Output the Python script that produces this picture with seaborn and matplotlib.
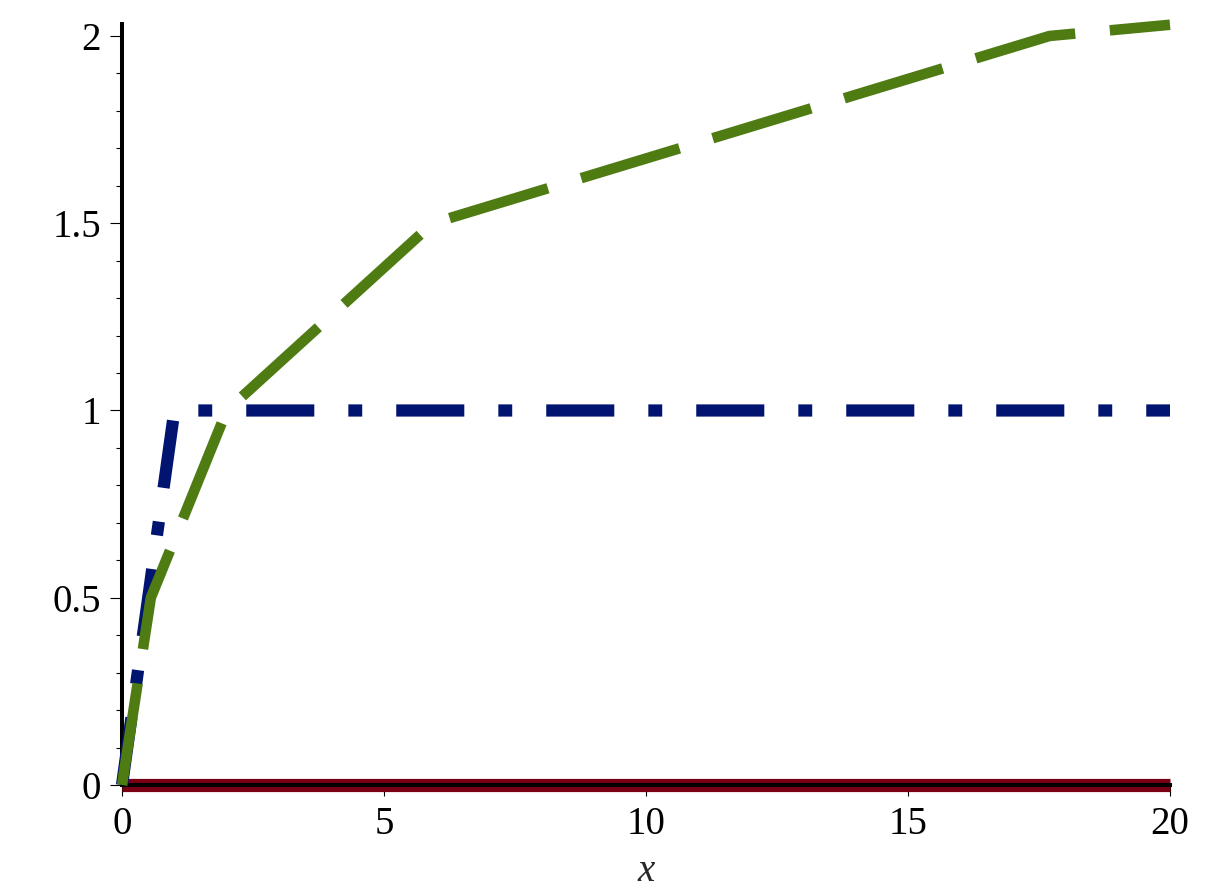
import numpy as np
import pandas as pd
import seaborn as sns
import matplotlib
matplotlib.use('Agg')
import matplotlib.pyplot as plt
from matplotlib.ticker import MultipleLocator, FixedLocator

# data
red_x = [0, 20]
red_y = [0, 0]
blue_x = [0, 1, 20]
blue_y = [0, 1, 1]
green_x = [0, 0.55, 2.0, 5.93, 17.7, 20]
green_y = [0, 0.5, 1.0, 1.5, 2.0, 2.03]

x_ticks = [0, 5, 10, 15, 20]
y_ticks = [0, 0.5, 1, 1.5, 2]
y_tick_labels = ['0', '0.5', '1', '1.5', '2']

sns.set_theme(style='white')
plt.rcParams['font.family'] = ['Liberation Serif', 'DejaVu Serif']
plt.rcParams['lines.scale_dashes'] = False
plt.rcParams['lines.dash_capstyle'] = 'butt'
plt.rcParams['lines.solid_capstyle'] = 'butt'

fig = plt.figure(figsize=(12.05, 8.94), dpi=100)
ax = fig.add_axes([122/1205, 1 - 785/894, (1170-122)/1205, (785-24)/894])

red = pd.DataFrame({'x': red_x, 'y': red_y})
blue = pd.DataFrame({'x': blue_x, 'y': blue_y})
green = pd.DataFrame({'x': green_x, 'y': green_y})

sns.lineplot(data=red, x='x', y='y', ax=ax, color='#780012', linewidth=9.5,
             estimator=None, sort=False, clip_on=False, zorder=2)
sns.lineplot(data=blue, x='x', y='y', ax=ax, color='#001470', linewidth=8.8,
             estimator=None, sort=False, clip_on=False, zorder=3,
             linestyle=(0, (49, 24.5, 10, 24.5)))
sns.lineplot(data=green, x='x', y='y', ax=ax, color='#4e7b12', linewidth=7.6,
             estimator=None, sort=False, clip_on=False, zorder=4,
             linestyle=(0, (74, 25)))

ax.set_xlim(0, 20)
ax.set_ylim(0, 2.032)

for s in ['top', 'right']:
    ax.spines[s].set_visible(False)
for s in ['left', 'bottom']:
    ax.spines[s].set_linewidth(2.9)
    ax.spines[s].set_color('black')
    ax.spines[s].set_zorder(2.5)

ax.xaxis.set_major_locator(FixedLocator(x_ticks))
ax.xaxis.set_minor_locator(MultipleLocator(1))
ax.set_yticks(y_ticks)
ax.set_yticklabels(y_tick_labels)
ax.yaxis.set_minor_locator(MultipleLocator(0.1))

ax.tick_params(axis='both', which='both', direction='out', color='black',
               width=0.8, labelsize=28, labelcolor='black')
ax.tick_params(axis='x', which='major', length=8, pad=7, bottom=True)
ax.tick_params(axis='x', which='minor', length=4.3, bottom=True)
ax.tick_params(axis='y', which='major', length=9, pad=6, left=True)
ax.tick_params(axis='y', which='minor', length=4.3, left=True)

ax.set_xlabel('x', fontsize=28, fontstyle='italic', labelpad=7)
ax.set_ylabel('')

fig.savefig('out.png', dpi=100)
